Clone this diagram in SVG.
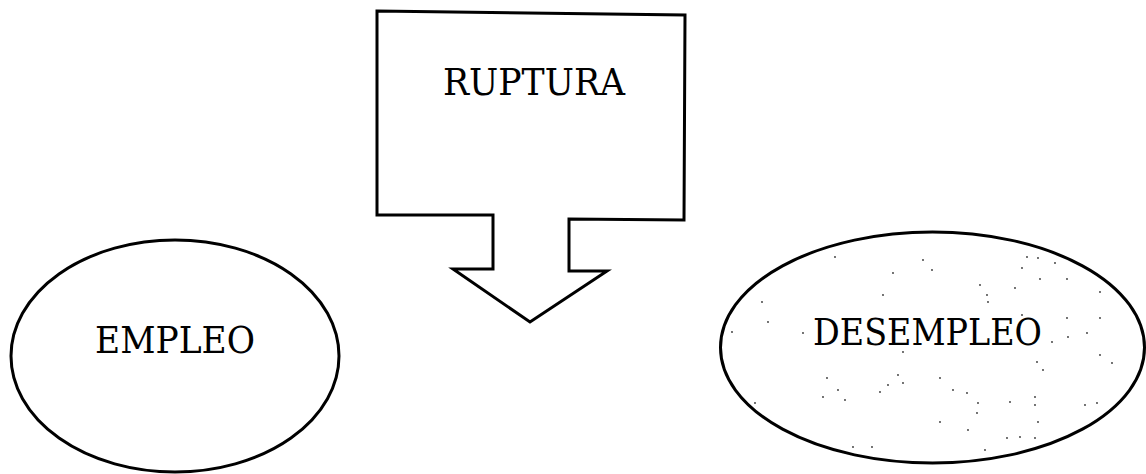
<svg xmlns="http://www.w3.org/2000/svg" width="1146" height="474" viewBox="0 0 1146 474">
<style>
.shape{fill:#fff;stroke:#000;stroke-width:3;stroke-linejoin:miter}
.lbl{font-family:"DejaVu Serif","Liberation Serif",serif;font-size:37px;fill:#000}
.dot{fill:#333}
</style>
<rect width="1146" height="474" fill="#fff"/>
<g id="ruptura">
<polygon class="shape" points="377,11 685,15 684,220 569,219 569,271 607,271 530,322 453,269 493,269 493,215 377,215"/>
<text class="lbl" x="443" y="95" textLength="182" lengthAdjust="spacingAndGlyphs">RUPTURA</text>
</g>
<g id="empleo">
<ellipse class="shape" cx="175" cy="356" rx="164" ry="116"/>
<text class="lbl" x="95" y="353" textLength="160" lengthAdjust="spacingAndGlyphs">EMPLEO</text>
</g>
<g id="desempleo">
<ellipse class="shape" cx="932.5" cy="347.5" rx="212" ry="115.5"/>
<g class="dot">
<circle cx="835" cy="257" r="0.9"/><circle cx="923" cy="260" r="0.9"/><circle cx="932" cy="270" r="0.9"/><circle cx="893" cy="273" r="0.9"/><circle cx="1027" cy="257" r="0.9"/><circle cx="1038" cy="258" r="0.9"/><circle cx="1055" cy="263" r="0.9"/><circle cx="1022" cy="268" r="0.9"/><circle cx="1040" cy="279" r="0.9"/><circle cx="1067" cy="279" r="0.9"/><circle cx="980" cy="285" r="0.9"/><circle cx="1015" cy="288" r="0.9"/><circle cx="1100" cy="292" r="0.9"/><circle cx="883" cy="295" r="0.9"/><circle cx="987" cy="295" r="0.9"/><circle cx="988" cy="302" r="0.9"/><circle cx="762" cy="302" r="0.9"/><circle cx="1022" cy="315" r="0.9"/><circle cx="1067" cy="318" r="0.9"/><circle cx="1100" cy="318" r="0.9"/><circle cx="768" cy="322" r="0.9"/><circle cx="803" cy="333" r="0.9"/><circle cx="1068" cy="337" r="0.9"/><circle cx="1087" cy="333" r="0.9"/><circle cx="732" cy="332" r="0.9"/><circle cx="1052" cy="342" r="0.9"/><circle cx="1100" cy="355" r="0.9"/><circle cx="1112" cy="363" r="0.9"/><circle cx="903" cy="352" r="0.9"/><circle cx="1037" cy="362" r="0.9"/><circle cx="1043" cy="370" r="0.9"/><circle cx="827" cy="378" r="0.9"/><circle cx="898" cy="375" r="0.9"/><circle cx="940" cy="378" r="0.9"/><circle cx="838" cy="390" r="0.9"/><circle cx="888" cy="385" r="0.9"/><circle cx="903" cy="383" r="0.9"/><circle cx="880" cy="392" r="0.9"/><circle cx="953" cy="390" r="0.9"/><circle cx="967" cy="393" r="0.9"/><circle cx="823" cy="397" r="0.9"/><circle cx="845" cy="400" r="0.9"/><circle cx="1035" cy="397" r="0.9"/><circle cx="1010" cy="402" r="0.9"/><circle cx="1035" cy="405" r="0.9"/><circle cx="978" cy="403" r="0.9"/><circle cx="1085" cy="405" r="0.9"/><circle cx="1097" cy="403" r="0.9"/><circle cx="755" cy="403" r="0.9"/><circle cx="977" cy="413" r="0.9"/><circle cx="940" cy="422" r="0.9"/><circle cx="1038" cy="422" r="0.9"/><circle cx="968" cy="430" r="0.9"/><circle cx="1007" cy="438" r="0.9"/><circle cx="1020" cy="437" r="0.9"/><circle cx="1035" cy="438" r="0.9"/><circle cx="853" cy="447" r="0.9"/><circle cx="872" cy="447" r="0.9"/><circle cx="985" cy="450" r="0.9"/>
</g>
<text class="lbl" x="813" y="345" textLength="229" lengthAdjust="spacingAndGlyphs">DESEMPLEO</text>
</g>
<g id="connectors"></g>
</svg>
